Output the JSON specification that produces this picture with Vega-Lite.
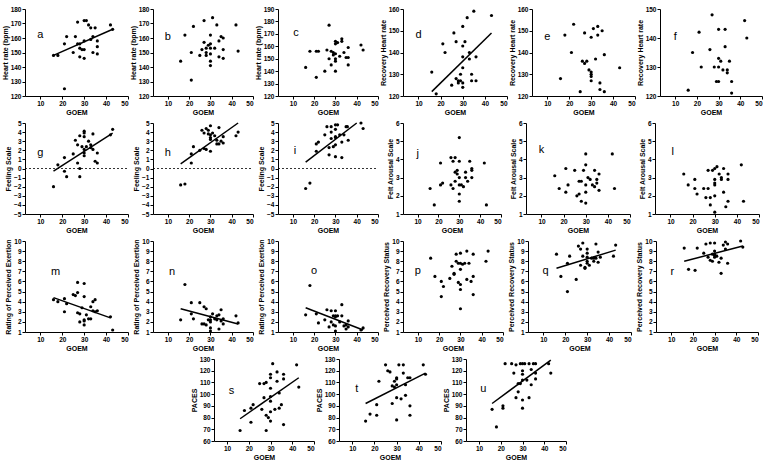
{
"$schema": "https://vega.github.io/schema/vega-lite/v6.json",
"padding": {"left": 1, "top": 6, "right": 1, "bottom": 0},
"spacing": 4,
"config": {
  "view": {"stroke": null},
  "axis": {"grid": false, "domainColor": "black", "tickColor": "black", "labelColor": "black", "titleColor": "black", "labelFont": "Liberation Sans", "titleFont": "Liberation Sans", "labelFontWeight": "bold", "titleFontWeight": "bold", "labelFontSize": 6.5, "titleFontSize": 7, "tickSize": 3, "labelPadding": 1, "titlePadding": 2, "domainWidth": 1, "labelOverlap": false},
  "text": {"font": "Liberation Sans"}
},
"datasets": {
"pts": [
{"panel":"a","goem":16,"value":148},{"panel":"a","goem":18,"value":148},{"panel":"a","goem":21,"value":125},{"panel":"a","goem":21,"value":156},{"panel":"a","goem":22,"value":161},{"panel":"a","goem":25,"value":150},{"panel":"a","goem":26,"value":161},{"panel":"a","goem":27,"value":171},{"panel":"a","goem":27,"value":156},{"panel":"a","goem":28,"value":153},{"panel":"a","goem":28,"value":147},{"panel":"a","goem":28,"value":156},{"panel":"a","goem":29,"value":152},{"panel":"a","goem":30,"value":146},{"panel":"a","goem":30,"value":152},{"panel":"a","goem":30,"value":158},{"panel":"a","goem":30,"value":172},{"panel":"a","goem":31,"value":172},{"panel":"a","goem":32,"value":169},{"panel":"a","goem":33,"value":167},{"panel":"a","goem":33,"value":159},{"panel":"a","goem":34,"value":161},{"panel":"a","goem":34,"value":150},{"panel":"a","goem":35,"value":167},{"panel":"a","goem":36,"value":158},{"panel":"a","goem":36,"value":154},{"panel":"a","goem":36,"value":149},{"panel":"a","goem":42,"value":169},{"panel":"a","goem":43,"value":166},
{"panel":"b","goem":16,"value":144},{"panel":"b","goem":18,"value":162},{"panel":"b","goem":21,"value":131},{"panel":"b","goem":21,"value":150},{"panel":"b","goem":22,"value":168},{"panel":"b","goem":25,"value":148},{"panel":"b","goem":26,"value":152},{"panel":"b","goem":27,"value":172},{"panel":"b","goem":27,"value":157},{"panel":"b","goem":28,"value":150},{"panel":"b","goem":28,"value":148},{"panel":"b","goem":28,"value":153},{"panel":"b","goem":29,"value":155},{"panel":"b","goem":30,"value":153},{"panel":"b","goem":30,"value":156},{"panel":"b","goem":30,"value":162},{"panel":"b","goem":30,"value":144},{"panel":"b","goem":30,"value":141},{"panel":"b","goem":30,"value":149},{"panel":"b","goem":31,"value":174},{"panel":"b","goem":32,"value":153},{"panel":"b","goem":33,"value":169},{"panel":"b","goem":34,"value":158},{"panel":"b","goem":34,"value":147},{"panel":"b","goem":35,"value":161},{"panel":"b","goem":36,"value":160},{"panel":"b","goem":36,"value":146},{"panel":"b","goem":36,"value":152},{"panel":"b","goem":42,"value":169},{"panel":"b","goem":43,"value":151},
{"panel":"c","goem":16,"value":143},{"panel":"c","goem":18,"value":156},{"panel":"c","goem":21,"value":135},{"panel":"c","goem":21,"value":156},{"panel":"c","goem":22,"value":156},{"panel":"c","goem":25,"value":140},{"panel":"c","goem":26,"value":157},{"panel":"c","goem":27,"value":177},{"panel":"c","goem":27,"value":150},{"panel":"c","goem":28,"value":145},{"panel":"c","goem":28,"value":156},{"panel":"c","goem":29,"value":155},{"panel":"c","goem":29,"value":153},{"panel":"c","goem":30,"value":164},{"panel":"c","goem":30,"value":162},{"panel":"c","goem":30,"value":150},{"panel":"c","goem":30,"value":148},{"panel":"c","goem":30,"value":140},{"panel":"c","goem":30,"value":154},{"panel":"c","goem":31,"value":163},{"panel":"c","goem":32,"value":152},{"panel":"c","goem":33,"value":166},{"panel":"c","goem":33,"value":164},{"panel":"c","goem":34,"value":155},{"panel":"c","goem":35,"value":151},{"panel":"c","goem":36,"value":151},{"panel":"c","goem":36,"value":159},{"panel":"c","goem":36,"value":145},{"panel":"c","goem":42,"value":161},{"panel":"c","goem":43,"value":157},
{"panel":"d","goem":16,"value":131},{"panel":"d","goem":18,"value":121},{"panel":"d","goem":21,"value":144},{"panel":"d","goem":22,"value":140},{"panel":"d","goem":25,"value":125},{"panel":"d","goem":26,"value":149},{"panel":"d","goem":27,"value":145},{"panel":"d","goem":27,"value":128},{"panel":"d","goem":28,"value":127},{"panel":"d","goem":28,"value":126},{"panel":"d","goem":29,"value":130},{"panel":"d","goem":29,"value":127},{"panel":"d","goem":30,"value":152},{"panel":"d","goem":30,"value":143},{"panel":"d","goem":30,"value":138},{"panel":"d","goem":30,"value":133},{"panel":"d","goem":30,"value":126},{"panel":"d","goem":30,"value":124},{"panel":"d","goem":31,"value":145},{"panel":"d","goem":32,"value":156},{"panel":"d","goem":33,"value":140},{"panel":"d","goem":33,"value":137},{"panel":"d","goem":34,"value":127},{"panel":"d","goem":34,"value":130},{"panel":"d","goem":35,"value":159},{"panel":"d","goem":36,"value":138},{"panel":"d","goem":36,"value":127},{"panel":"d","goem":43,"value":157},
{"panel":"e","goem":16,"value":128},{"panel":"e","goem":18,"value":148},{"panel":"e","goem":21,"value":140},{"panel":"e","goem":22,"value":153},{"panel":"e","goem":25,"value":122},{"panel":"e","goem":26,"value":136},{"panel":"e","goem":27,"value":135},{"panel":"e","goem":27,"value":149},{"panel":"e","goem":28,"value":136},{"panel":"e","goem":29,"value":132},{"panel":"e","goem":30,"value":147},{"panel":"e","goem":30,"value":131},{"panel":"e","goem":30,"value":130},{"panel":"e","goem":30,"value":129},{"panel":"e","goem":30,"value":127},{"panel":"e","goem":31,"value":151},{"panel":"e","goem":32,"value":137},{"panel":"e","goem":33,"value":152},{"panel":"e","goem":33,"value":148},{"panel":"e","goem":34,"value":126},{"panel":"e","goem":34,"value":123},{"panel":"e","goem":35,"value":150},{"panel":"e","goem":36,"value":139},{"panel":"e","goem":36,"value":122},{"panel":"e","goem":43,"value":133},
{"panel":"f","goem":16,"value":122},{"panel":"f","goem":18,"value":135},{"panel":"f","goem":21,"value":142},{"panel":"f","goem":22,"value":130},{"panel":"f","goem":26,"value":136},{"panel":"f","goem":27,"value":148},{"panel":"f","goem":28,"value":130},{"panel":"f","goem":29,"value":125},{"panel":"f","goem":30,"value":125},{"panel":"f","goem":30,"value":143},{"panel":"f","goem":30,"value":133},{"panel":"f","goem":30,"value":130},{"panel":"f","goem":31,"value":132},{"panel":"f","goem":32,"value":129},{"panel":"f","goem":33,"value":143},{"panel":"f","goem":33,"value":137},{"panel":"f","goem":34,"value":128},{"panel":"f","goem":34,"value":129},{"panel":"f","goem":35,"value":132},{"panel":"f","goem":36,"value":125},{"panel":"f","goem":36,"value":121},{"panel":"f","goem":42,"value":146},{"panel":"f","goem":43,"value":140},
{"panel":"g","goem":16,"value":-2},{"panel":"g","goem":18,"value":0.4},{"panel":"g","goem":21,"value":1.2},{"panel":"g","goem":21,"value":-0.3},{"panel":"g","goem":22,"value":-0.9},{"panel":"g","goem":25,"value":1.6},{"panel":"g","goem":26,"value":3.1},{"panel":"g","goem":27,"value":2.6},{"panel":"g","goem":27,"value":0.6},{"panel":"g","goem":28,"value":3.6},{"panel":"g","goem":28,"value":0},{"panel":"g","goem":28,"value":-0.9},{"panel":"g","goem":29,"value":2.4},{"panel":"g","goem":30,"value":4.1},{"panel":"g","goem":30,"value":3.9},{"panel":"g","goem":30,"value":3.5},{"panel":"g","goem":30,"value":2.1},{"panel":"g","goem":30,"value":1.4},{"panel":"g","goem":30,"value":1.7},{"panel":"g","goem":31,"value":2.4},{"panel":"g","goem":32,"value":3},{"panel":"g","goem":33,"value":2.6},{"panel":"g","goem":33,"value":2.3},{"panel":"g","goem":34,"value":3.8},{"panel":"g","goem":34,"value":2.1},{"panel":"g","goem":35,"value":0.8},{"panel":"g","goem":36,"value":1.7},{"panel":"g","goem":36,"value":0.6},{"panel":"g","goem":42,"value":3.7},{"panel":"g","goem":43,"value":4.3},
{"panel":"h","goem":16,"value":-1.8},{"panel":"h","goem":18,"value":-1.7},{"panel":"h","goem":21,"value":1.6},{"panel":"h","goem":21,"value":0.6},{"panel":"h","goem":22,"value":2.4},{"panel":"h","goem":25,"value":2},{"panel":"h","goem":26,"value":4.2},{"panel":"h","goem":27,"value":3.9},{"panel":"h","goem":27,"value":2.2},{"panel":"h","goem":28,"value":4.4},{"panel":"h","goem":28,"value":2.1},{"panel":"h","goem":29,"value":4.2},{"panel":"h","goem":29,"value":3.8},{"panel":"h","goem":30,"value":4.7},{"panel":"h","goem":30,"value":3.7},{"panel":"h","goem":30,"value":3.4},{"panel":"h","goem":30,"value":3.2},{"panel":"h","goem":30,"value":1.9},{"panel":"h","goem":31,"value":3.9},{"panel":"h","goem":32,"value":3.6},{"panel":"h","goem":33,"value":3.1},{"panel":"h","goem":33,"value":2.7},{"panel":"h","goem":34,"value":4.5},{"panel":"h","goem":34,"value":2.7},{"panel":"h","goem":35,"value":3},{"panel":"h","goem":36,"value":3.5},{"panel":"h","goem":36,"value":2.8},{"panel":"h","goem":42,"value":3.6},{"panel":"h","goem":43,"value":4},
{"panel":"i","goem":16,"value":-2.2},{"panel":"i","goem":18,"value":-1.6},{"panel":"i","goem":21,"value":2.7},{"panel":"i","goem":21,"value":1.9},{"panel":"i","goem":22,"value":2.9},{"panel":"i","goem":25,"value":3.7},{"panel":"i","goem":26,"value":4.6},{"panel":"i","goem":27,"value":1.5},{"panel":"i","goem":27,"value":2.3},{"panel":"i","goem":28,"value":4.6},{"panel":"i","goem":28,"value":4},{"panel":"i","goem":28,"value":3.3},{"panel":"i","goem":29,"value":2.4},{"panel":"i","goem":30,"value":4.8},{"panel":"i","goem":30,"value":4.3},{"panel":"i","goem":30,"value":3.5},{"panel":"i","goem":30,"value":3.4},{"panel":"i","goem":30,"value":2.6},{"panel":"i","goem":30,"value":1.3},{"panel":"i","goem":31,"value":4.8},{"panel":"i","goem":32,"value":3.7},{"panel":"i","goem":33,"value":2.9},{"panel":"i","goem":33,"value":1.2},{"panel":"i","goem":34,"value":3.7},{"panel":"i","goem":35,"value":4.6},{"panel":"i","goem":35.6,"value":4.6},{"panel":"i","goem":36,"value":3.1},{"panel":"i","goem":42,"value":5},{"panel":"i","goem":43,"value":4.4},
{"panel":"j","goem":16,"value":2.4},{"panel":"j","goem":18,"value":1.5},{"panel":"j","goem":21,"value":2.6},{"panel":"j","goem":21,"value":3.8},{"panel":"j","goem":22,"value":2.7},{"panel":"j","goem":26,"value":4.1},{"panel":"j","goem":26,"value":2.6},{"panel":"j","goem":27,"value":3.9},{"panel":"j","goem":27,"value":2.4},{"panel":"j","goem":28,"value":4.1},{"panel":"j","goem":28,"value":3.3},{"panel":"j","goem":28,"value":2.8},{"panel":"j","goem":29,"value":3.2},{"panel":"j","goem":29,"value":3.4},{"panel":"j","goem":30,"value":5.2},{"panel":"j","goem":30,"value":3.9},{"panel":"j","goem":30,"value":3},{"panel":"j","goem":30,"value":2.6},{"panel":"j","goem":30,"value":2.1},{"panel":"j","goem":30,"value":1.7},{"panel":"j","goem":31,"value":2.6},{"panel":"j","goem":32,"value":2.5},{"panel":"j","goem":33,"value":3.3},{"panel":"j","goem":33,"value":3},{"panel":"j","goem":34,"value":2.8},{"panel":"j","goem":35,"value":3.9},{"panel":"j","goem":36,"value":3.5},{"panel":"j","goem":36,"value":3.4},{"panel":"j","goem":36,"value":3},{"panel":"j","goem":42,"value":3.8},{"panel":"j","goem":43,"value":1.5},
{"panel":"k","goem":16,"value":3.1},{"panel":"k","goem":18,"value":2.4},{"panel":"k","goem":21,"value":3.5},{"panel":"k","goem":21,"value":2.2},{"panel":"k","goem":22,"value":2.6},{"panel":"k","goem":25,"value":3.4},{"panel":"k","goem":26,"value":2},{"panel":"k","goem":27,"value":2.1},{"panel":"k","goem":27,"value":2.8},{"panel":"k","goem":28,"value":2.8},{"panel":"k","goem":28,"value":1.7},{"panel":"k","goem":29,"value":3.4},{"panel":"k","goem":30,"value":4.3},{"panel":"k","goem":30,"value":3.7},{"panel":"k","goem":30,"value":2.6},{"panel":"k","goem":30,"value":2.2},{"panel":"k","goem":30,"value":1.6},{"panel":"k","goem":31,"value":3},{"panel":"k","goem":32,"value":2.9},{"panel":"k","goem":33,"value":2.6},{"panel":"k","goem":34,"value":3.4},{"panel":"k","goem":34,"value":2.5},{"panel":"k","goem":35,"value":2.9},{"panel":"k","goem":35,"value":2.7},{"panel":"k","goem":36,"value":3.2},{"panel":"k","goem":36,"value":2.3},{"panel":"k","goem":42,"value":4.3},{"panel":"k","goem":43,"value":2.4},
{"panel":"l","goem":16,"value":3.2},{"panel":"l","goem":18,"value":2.6},{"panel":"l","goem":21,"value":2.9},{"panel":"l","goem":21,"value":2.4},{"panel":"l","goem":22,"value":2.1},{"panel":"l","goem":25,"value":2.4},{"panel":"l","goem":26,"value":1.9},{"panel":"l","goem":27,"value":3.4},{"panel":"l","goem":27,"value":2.4},{"panel":"l","goem":28,"value":1.9},{"panel":"l","goem":28,"value":1.5},{"panel":"l","goem":29,"value":3.4},{"panel":"l","goem":30,"value":3.5},{"panel":"l","goem":30,"value":2.9},{"panel":"l","goem":30,"value":2.7},{"panel":"l","goem":30,"value":2.6},{"panel":"l","goem":30,"value":2},{"panel":"l","goem":30,"value":1.1},{"panel":"l","goem":31,"value":3.6},{"panel":"l","goem":32,"value":3.2},{"panel":"l","goem":33,"value":3},{"panel":"l","goem":33,"value":2.9},{"panel":"l","goem":34,"value":3.5},{"panel":"l","goem":34,"value":2.2},{"panel":"l","goem":35,"value":1.4},{"panel":"l","goem":36,"value":3.2},{"panel":"l","goem":36,"value":2.9},{"panel":"l","goem":36,"value":1.7},{"panel":"l","goem":42,"value":3.7},{"panel":"l","goem":43,"value":1.7},
{"panel":"m","goem":16,"value":4.2},{"panel":"m","goem":18,"value":4},{"panel":"m","goem":21,"value":4.3},{"panel":"m","goem":21,"value":3},{"panel":"m","goem":22,"value":3.8},{"panel":"m","goem":25,"value":4.7},{"panel":"m","goem":26,"value":4.6},{"panel":"m","goem":27,"value":2.9},{"panel":"m","goem":27,"value":5.9},{"panel":"m","goem":27,"value":4.9},{"panel":"m","goem":28,"value":2.8},{"panel":"m","goem":28,"value":2},{"panel":"m","goem":29,"value":3.4},{"panel":"m","goem":30,"value":5.8},{"panel":"m","goem":30,"value":4.5},{"panel":"m","goem":30,"value":2.2},{"panel":"m","goem":30,"value":2.1},{"panel":"m","goem":30,"value":1.7},{"panel":"m","goem":31,"value":2.7},{"panel":"m","goem":32,"value":2.3},{"panel":"m","goem":33,"value":2.3},{"panel":"m","goem":33,"value":3.5},{"panel":"m","goem":34,"value":3.1},{"panel":"m","goem":34,"value":4},{"panel":"m","goem":35,"value":4.2},{"panel":"m","goem":35,"value":3},{"panel":"m","goem":36,"value":3.1},{"panel":"m","goem":42,"value":2.5},{"panel":"m","goem":43,"value":1.2},
{"panel":"n","goem":16,"value":2.2},{"panel":"n","goem":18,"value":5.7},{"panel":"n","goem":21,"value":3.9},{"panel":"n","goem":21,"value":2.8},{"panel":"n","goem":22,"value":2.3},{"panel":"n","goem":25,"value":3.9},{"panel":"n","goem":26,"value":1.8},{"panel":"n","goem":27,"value":3.5},{"panel":"n","goem":27,"value":1.8},{"panel":"n","goem":28,"value":3.3},{"panel":"n","goem":28,"value":1.7},{"panel":"n","goem":29,"value":2.2},{"panel":"n","goem":30,"value":2.5},{"panel":"n","goem":30,"value":2.2},{"panel":"n","goem":30,"value":2},{"panel":"n","goem":30,"value":1.4},{"panel":"n","goem":30,"value":1.1},{"panel":"n","goem":31,"value":2.8},{"panel":"n","goem":32,"value":2.3},{"panel":"n","goem":33,"value":2.6},{"panel":"n","goem":33,"value":2.2},{"panel":"n","goem":34,"value":2.7},{"panel":"n","goem":34,"value":1.3},{"panel":"n","goem":35,"value":3.2},{"panel":"n","goem":35,"value":2.1},{"panel":"n","goem":36,"value":2.3},{"panel":"n","goem":36,"value":1.8},{"panel":"n","goem":42,"value":2.6},{"panel":"n","goem":43,"value":1.9},
{"panel":"o","goem":16,"value":2.7},{"panel":"o","goem":18,"value":5.6},{"panel":"o","goem":21,"value":2.8},{"panel":"o","goem":22,"value":1.9},{"panel":"o","goem":25,"value":2.2},{"panel":"o","goem":26,"value":3.2},{"panel":"o","goem":27,"value":1.5},{"panel":"o","goem":28,"value":3.1},{"panel":"o","goem":28,"value":2},{"panel":"o","goem":29,"value":2.6},{"panel":"o","goem":29,"value":1.7},{"panel":"o","goem":30,"value":3.1},{"panel":"o","goem":30,"value":2.6},{"panel":"o","goem":30,"value":2.5},{"panel":"o","goem":30,"value":1.6},{"panel":"o","goem":30,"value":1.1},{"panel":"o","goem":31,"value":2.6},{"panel":"o","goem":32,"value":2},{"panel":"o","goem":33,"value":3.7},{"panel":"o","goem":33,"value":2.6},{"panel":"o","goem":34,"value":1.6},{"panel":"o","goem":35,"value":1.7},{"panel":"o","goem":35,"value":1.3},{"panel":"o","goem":36,"value":2.1},{"panel":"o","goem":36,"value":1.5},{"panel":"o","goem":42,"value":1.2},{"panel":"o","goem":43,"value":1.4},
{"panel":"p","goem":16,"value":8.3},{"panel":"p","goem":18,"value":6.5},{"panel":"p","goem":21,"value":6},{"panel":"p","goem":21,"value":4.5},{"panel":"p","goem":22,"value":5.5},{"panel":"p","goem":25,"value":6.3},{"panel":"p","goem":26,"value":7.5},{"panel":"p","goem":27,"value":6.8},{"panel":"p","goem":27,"value":6.7},{"panel":"p","goem":28,"value":8.7},{"panel":"p","goem":28,"value":8},{"panel":"p","goem":29,"value":5.9},{"panel":"p","goem":29,"value":7.8},{"panel":"p","goem":30,"value":8.8},{"panel":"p","goem":30,"value":7.8},{"panel":"p","goem":30,"value":7.2},{"panel":"p","goem":30,"value":5.7},{"panel":"p","goem":30,"value":5.2},{"panel":"p","goem":30,"value":3.3},{"panel":"p","goem":31,"value":7.7},{"panel":"p","goem":32,"value":7.8},{"panel":"p","goem":33,"value":9},{"panel":"p","goem":33,"value":6.2},{"panel":"p","goem":34,"value":7.8},{"panel":"p","goem":35,"value":6},{"panel":"p","goem":36,"value":8.7},{"panel":"p","goem":36,"value":6.5},{"panel":"p","goem":36,"value":4.7},{"panel":"p","goem":42,"value":8},{"panel":"p","goem":43,"value":9},
{"panel":"q","goem":16,"value":8.7},{"panel":"q","goem":18,"value":6.5},{"panel":"q","goem":21,"value":7.8},{"panel":"q","goem":21,"value":5},{"panel":"q","goem":22,"value":8.5},{"panel":"q","goem":25,"value":6.2},{"panel":"q","goem":26,"value":9.5},{"panel":"q","goem":27,"value":9.2},{"panel":"q","goem":27,"value":7.6},{"panel":"q","goem":28,"value":9.8},{"panel":"q","goem":28,"value":8.5},{"panel":"q","goem":29,"value":7.3},{"panel":"q","goem":29,"value":7.4},{"panel":"q","goem":30,"value":9.2},{"panel":"q","goem":30,"value":8.8},{"panel":"q","goem":30,"value":8.4},{"panel":"q","goem":30,"value":8},{"panel":"q","goem":30,"value":7.8},{"panel":"q","goem":31,"value":7.6},{"panel":"q","goem":32,"value":8.3},{"panel":"q","goem":33,"value":8.3},{"panel":"q","goem":33,"value":8},{"panel":"q","goem":34,"value":9.7},{"panel":"q","goem":34,"value":8.3},{"panel":"q","goem":35,"value":8.9},{"panel":"q","goem":35,"value":7.9},{"panel":"q","goem":36,"value":8.4},{"panel":"q","goem":42,"value":8.5},{"panel":"q","goem":43,"value":9.6},
{"panel":"r","goem":16,"value":9.3},{"panel":"r","goem":18,"value":7.2},{"panel":"r","goem":21,"value":7.1},{"panel":"r","goem":22,"value":9.3},{"panel":"r","goem":25,"value":8.8},{"panel":"r","goem":26,"value":9.7},{"panel":"r","goem":27,"value":8.4},{"panel":"r","goem":28,"value":9.8},{"panel":"r","goem":28,"value":8.1},{"panel":"r","goem":29,"value":8.7},{"panel":"r","goem":29,"value":8},{"panel":"r","goem":30,"value":9.8},{"panel":"r","goem":30,"value":9},{"panel":"r","goem":30,"value":8.7},{"panel":"r","goem":30,"value":8.4},{"panel":"r","goem":30,"value":8.6},{"panel":"r","goem":31,"value":8.5},{"panel":"r","goem":32,"value":7.9},{"panel":"r","goem":33,"value":8.3},{"panel":"r","goem":33,"value":6.8},{"panel":"r","goem":34,"value":9.6},{"panel":"r","goem":35,"value":9.9},{"panel":"r","goem":35,"value":9.2},{"panel":"r","goem":36,"value":9.7},{"panel":"r","goem":36,"value":7.8},{"panel":"r","goem":42,"value":10},{"panel":"r","goem":43,"value":9.4},
{"panel":"s","goem":16,"value":69},{"panel":"s","goem":18,"value":86},{"panel":"s","goem":21,"value":76},{"panel":"s","goem":21,"value":88},{"panel":"s","goem":22,"value":91},{"panel":"s","goem":25,"value":109},{"panel":"s","goem":26,"value":87},{"panel":"s","goem":27,"value":97},{"panel":"s","goem":27,"value":109},{"panel":"s","goem":28,"value":110},{"panel":"s","goem":28,"value":69},{"panel":"s","goem":28,"value":82},{"panel":"s","goem":29,"value":80},{"panel":"s","goem":30,"value":77},{"panel":"s","goem":30,"value":85},{"panel":"s","goem":30,"value":94},{"panel":"s","goem":30,"value":98},{"panel":"s","goem":30,"value":105},{"panel":"s","goem":30,"value":114},{"panel":"s","goem":30,"value":117},{"panel":"s","goem":31,"value":126},{"panel":"s","goem":32,"value":87},{"panel":"s","goem":33,"value":111},{"panel":"s","goem":33,"value":119},{"panel":"s","goem":34,"value":101},{"panel":"s","goem":34,"value":88},{"panel":"s","goem":35,"value":91},{"panel":"s","goem":36,"value":117},{"panel":"s","goem":36,"value":113},{"panel":"s","goem":36,"value":74},{"panel":"s","goem":42,"value":125},{"panel":"s","goem":43,"value":106},
{"panel":"t","goem":16,"value":77},{"panel":"t","goem":18,"value":83},{"panel":"t","goem":21,"value":91},{"panel":"t","goem":21,"value":82},{"panel":"t","goem":22,"value":111},{"panel":"t","goem":25,"value":125},{"panel":"t","goem":26,"value":120},{"panel":"t","goem":27,"value":119},{"panel":"t","goem":28,"value":107},{"panel":"t","goem":28,"value":92},{"panel":"t","goem":29,"value":111},{"panel":"t","goem":29,"value":106},{"panel":"t","goem":30,"value":108},{"panel":"t","goem":30,"value":97},{"panel":"t","goem":30,"value":78},{"panel":"t","goem":30,"value":114},{"panel":"t","goem":30,"value":113},{"panel":"t","goem":31,"value":125},{"panel":"t","goem":32,"value":96},{"panel":"t","goem":33,"value":125},{"panel":"t","goem":33,"value":118},{"panel":"t","goem":34,"value":108},{"panel":"t","goem":34,"value":99},{"panel":"t","goem":35,"value":114},{"panel":"t","goem":36,"value":114},{"panel":"t","goem":36,"value":90},{"panel":"t","goem":36,"value":82},{"panel":"t","goem":42,"value":125},{"panel":"t","goem":43,"value":117},
{"panel":"u","goem":16,"value":87},{"panel":"u","goem":18,"value":72},{"panel":"u","goem":21,"value":90},{"panel":"u","goem":21,"value":88},{"panel":"u","goem":22,"value":126},{"panel":"u","goem":25,"value":126},{"panel":"u","goem":26,"value":118},{"panel":"u","goem":27,"value":125},{"panel":"u","goem":27,"value":97},{"panel":"u","goem":28,"value":102},{"panel":"u","goem":28,"value":109},{"panel":"u","goem":29,"value":109},{"panel":"u","goem":29,"value":126},{"panel":"u","goem":30,"value":120},{"panel":"u","goem":30,"value":117},{"panel":"u","goem":30,"value":112},{"panel":"u","goem":30,"value":95},{"panel":"u","goem":30,"value":88},{"panel":"u","goem":30,"value":126},{"panel":"u","goem":31,"value":126},{"panel":"u","goem":32,"value":112},{"panel":"u","goem":33,"value":126},{"panel":"u","goem":33,"value":97},{"panel":"u","goem":34,"value":121},{"panel":"u","goem":34,"value":108},{"panel":"u","goem":35,"value":126},{"panel":"u","goem":36,"value":126},{"panel":"u","goem":36,"value":118},{"panel":"u","goem":36,"value":113},{"panel":"u","goem":42,"value":126},{"panel":"u","goem":43,"value":118}
],
"fits": [
{"panel":"a","goem":16,"value":148},{"panel":"a","goem":43,"value":166},
{"panel":"d","goem":16,"value":122},{"panel":"d","goem":43,"value":149},
{"panel":"g","goem":16,"value":-0.3},{"panel":"g","goem":43,"value":3.9},
{"panel":"h","goem":16,"value":0.5},{"panel":"h","goem":43,"value":5},
{"panel":"i","goem":16,"value":0.7},{"panel":"i","goem":40,"value":5},
{"panel":"m","goem":16,"value":4.4},{"panel":"m","goem":42,"value":2.4},
{"panel":"n","goem":16,"value":3.3},{"panel":"n","goem":43,"value":1.8},
{"panel":"o","goem":16,"value":3.4},{"panel":"o","goem":43,"value":1.2},
{"panel":"q","goem":16,"value":7.3},{"panel":"q","goem":43,"value":9.1},
{"panel":"r","goem":16,"value":8},{"panel":"r","goem":43,"value":9.5},
{"panel":"s","goem":16,"value":79},{"panel":"s","goem":43,"value":114},
{"panel":"t","goem":16,"value":92},{"panel":"t","goem":43,"value":118},
{"panel":"u","goem":16,"value":92},{"panel":"u","goem":43,"value":129}
],
"letters": [
{"panel":"a","goem":10,"value":162},{"panel":"b","goem":10,"value":161},{"panel":"c","goem":11.5,"value":171},
{"panel":"d","goem":10,"value":148},{"panel":"e","goem":10,"value":147},{"panel":"f","goem":10,"value":140.4},
{"panel":"g","goem":10,"value":1.75},{"panel":"h","goem":10,"value":1.7},{"panel":"i","goem":11,"value":1.9},
{"panel":"j","goem":10,"value":4.3},{"panel":"k","goem":10,"value":4.5},{"panel":"l","goem":11,"value":4.4},
{"panel":"m","goem":17,"value":6.9},{"panel":"n","goem":12,"value":6.9},{"panel":"o","goem":20,"value":7},
{"panel":"p","goem":10,"value":7},{"panel":"q","goem":11,"value":7},{"panel":"r","goem":10.5,"value":6.9},
{"panel":"s","goem":12,"value":103},{"panel":"t","goem":12,"value":104},{"panel":"u","goem":12,"value":104}
]
},
"vconcat": [
{"hconcat": [
{"width":103,"height":87,"encoding":{"x":{"field":"goem","type":"quantitative","scale":{"domain":[3,50],"nice":false,"zero":false},"axis":{"values":[10,20,30,40,50],"title":"GOEM"}},"y":{"field":"value","type":"quantitative","scale":{"domain":[120,180],"nice":false,"zero":false},"axis":{"values":[120,130,140,150,160,170,180],"title":"Heart rate (bpm)"}}},"layer":[
 {"data":{"name":"pts"},"transform":[{"filter":"datum.panel == 'a'"}],"mark":{"type":"circle","size":10,"color":"black","opacity":1}},
 {"data":{"name":"fits"},"transform":[{"filter":"datum.panel == 'a'"}],"mark":{"type":"line","color":"black","strokeWidth":1.5},"encoding":{}},
 {"data":{"name":"letters"},"transform":[{"filter":"datum.panel == 'a'"}],"mark":{"type":"text","fontSize":11,"color":"black"},"encoding":{"text":{"field":"panel"}}}
]},
{"width":100,"height":87,"encoding":{"x":{"field":"goem","type":"quantitative","scale":{"domain":[3,50],"nice":false,"zero":false},"axis":{"values":[10,20,30,40,50],"title":"GOEM"}},"y":{"field":"value","type":"quantitative","scale":{"domain":[120,180],"nice":false,"zero":false},"axis":{"values":[120,130,140,150,160,170,180],"title":"Heart rate (bpm)"}}},"layer":[
 {"data":{"name":"pts"},"transform":[{"filter":"datum.panel == 'b'"}],"mark":{"type":"circle","size":10,"color":"black","opacity":1}},
 {"data":{"name":"letters"},"transform":[{"filter":"datum.panel == 'b'"}],"mark":{"type":"text","fontSize":11,"color":"black"},"encoding":{"text":{"field":"panel"}}}
]},
{"width":100,"height":87,"encoding":{"x":{"field":"goem","type":"quantitative","scale":{"domain":[3,50],"nice":false,"zero":false},"axis":{"values":[10,20,30,40,50],"title":"GOEM"}},"y":{"field":"value","type":"quantitative","scale":{"domain":[120,190],"nice":false,"zero":false},"axis":{"values":[120,130,140,150,160,170,180,190],"title":"Heart rate (bpm)"}}},"layer":[
 {"data":{"name":"pts"},"transform":[{"filter":"datum.panel == 'c'"}],"mark":{"type":"circle","size":10,"color":"black","opacity":1}},
 {"data":{"name":"letters"},"transform":[{"filter":"datum.panel == 'c'"}],"mark":{"type":"text","fontSize":11,"color":"black"},"encoding":{"text":{"field":"panel"}}}
]},
{"width":104,"height":87,"encoding":{"x":{"field":"goem","type":"quantitative","scale":{"domain":[3,50],"nice":false,"zero":false},"axis":{"values":[10,20,30,40,50],"title":"GOEM"}},"y":{"field":"value","type":"quantitative","scale":{"domain":[120,160],"nice":false,"zero":false},"axis":{"values":[120,130,140,150,160],"title":"Recovery Heart rate"}}},"layer":[
 {"data":{"name":"pts"},"transform":[{"filter":"datum.panel == 'd'"}],"mark":{"type":"circle","size":10,"color":"black","opacity":1}},
 {"data":{"name":"fits"},"transform":[{"filter":"datum.panel == 'd'"}],"mark":{"type":"line","color":"black","strokeWidth":1.5},"encoding":{}},
 {"data":{"name":"letters"},"transform":[{"filter":"datum.panel == 'd'"}],"mark":{"type":"text","fontSize":11,"color":"black"},"encoding":{"text":{"field":"panel"}}}
]},
{"width":103,"height":87,"encoding":{"x":{"field":"goem","type":"quantitative","scale":{"domain":[3,50],"nice":false,"zero":false},"axis":{"values":[10,20,30,40,50],"title":"GOEM"}},"y":{"field":"value","type":"quantitative","scale":{"domain":[120,160],"nice":false,"zero":false},"axis":{"values":[120,130,140,150,160],"title":"Recovery Heart rate"}}},"layer":[
 {"data":{"name":"pts"},"transform":[{"filter":"datum.panel == 'e'"}],"mark":{"type":"circle","size":10,"color":"black","opacity":1}},
 {"data":{"name":"letters"},"transform":[{"filter":"datum.panel == 'e'"}],"mark":{"type":"text","fontSize":11,"color":"black"},"encoding":{"text":{"field":"panel"}}}
]},
{"width":102,"height":87,"encoding":{"x":{"field":"goem","type":"quantitative","scale":{"domain":[3,50],"nice":false,"zero":false},"axis":{"values":[10,20,30,40,50],"title":"GOEM"}},"y":{"field":"value","type":"quantitative","scale":{"domain":[120,150],"nice":false,"zero":false},"axis":{"values":[120,130,140,150],"title":"Recovery Heart rate"}}},"layer":[
 {"data":{"name":"pts"},"transform":[{"filter":"datum.panel == 'f'"}],"mark":{"type":"circle","size":10,"color":"black","opacity":1}},
 {"data":{"name":"letters"},"transform":[{"filter":"datum.panel == 'f'"}],"mark":{"type":"text","fontSize":11,"color":"black"},"encoding":{"text":{"field":"panel"}}}
]}
], "spacing": 25, "bounds": "flush"},
{"hconcat": [
{"width":103,"height":91,"encoding":{"x":{"field":"goem","type":"quantitative","scale":{"domain":[3,50],"nice":false,"zero":false},"axis":{"values":[10,20,30,40,50],"title":"GOEM"}},"y":{"field":"value","type":"quantitative","scale":{"domain":[-5,5],"nice":false,"zero":false},"axis":{"values":[-5,-4,-3,-2,-1,0,1,2,3,4,5],"title":"Feeling Scale"}}},"layer":[
 {"data":{"name":"pts"},"transform":[{"filter":"datum.panel == 'g'"}],"mark":{"type":"circle","size":10,"color":"black","opacity":1}},
 {"data":{"name":"letters"},"transform":[{"filter":"datum.panel == 'g'"}],"mark":{"type":"rule","color":"black","strokeWidth":0.8,"strokeDash":[2,2]},"encoding":{"x":{"datum":3},"x2":{"datum":50},"y":{"datum":0}}},
 {"data":{"name":"fits"},"transform":[{"filter":"datum.panel == 'g'"}],"mark":{"type":"line","color":"black","strokeWidth":1.5},"encoding":{}},
 {"data":{"name":"letters"},"transform":[{"filter":"datum.panel == 'g'"}],"mark":{"type":"text","fontSize":11,"color":"black"},"encoding":{"text":{"field":"panel"}}}
]},
{"width":100,"height":91,"encoding":{"x":{"field":"goem","type":"quantitative","scale":{"domain":[3,50],"nice":false,"zero":false},"axis":{"values":[10,20,30,40,50],"title":"GOEM"}},"y":{"field":"value","type":"quantitative","scale":{"domain":[-5,5],"nice":false,"zero":false},"axis":{"values":[-5,-4,-3,-2,-1,0,1,2,3,4,5],"title":"Feeling Scale"}}},"layer":[
 {"data":{"name":"pts"},"transform":[{"filter":"datum.panel == 'h'"}],"mark":{"type":"circle","size":10,"color":"black","opacity":1}},
 {"data":{"name":"letters"},"transform":[{"filter":"datum.panel == 'h'"}],"mark":{"type":"rule","color":"black","strokeWidth":0.8,"strokeDash":[2,2]},"encoding":{"x":{"datum":3},"x2":{"datum":50},"y":{"datum":0}}},
 {"data":{"name":"fits"},"transform":[{"filter":"datum.panel == 'h'"}],"mark":{"type":"line","color":"black","strokeWidth":1.5},"encoding":{}},
 {"data":{"name":"letters"},"transform":[{"filter":"datum.panel == 'h'"}],"mark":{"type":"text","fontSize":11,"color":"black"},"encoding":{"text":{"field":"panel"}}}
]},
{"width":100,"height":91,"encoding":{"x":{"field":"goem","type":"quantitative","scale":{"domain":[3,50],"nice":false,"zero":false},"axis":{"values":[10,20,30,40,50],"title":"GOEM"}},"y":{"field":"value","type":"quantitative","scale":{"domain":[-5,5],"nice":false,"zero":false},"axis":{"values":[-5,-4,-3,-2,-1,0,1,2,3,4,5],"title":"Feeling Scale"}}},"layer":[
 {"data":{"name":"pts"},"transform":[{"filter":"datum.panel == 'i'"}],"mark":{"type":"circle","size":10,"color":"black","opacity":1}},
 {"data":{"name":"letters"},"transform":[{"filter":"datum.panel == 'i'"}],"mark":{"type":"rule","color":"black","strokeWidth":0.8,"strokeDash":[2,2]},"encoding":{"x":{"datum":3},"x2":{"datum":50},"y":{"datum":0}}},
 {"data":{"name":"fits"},"transform":[{"filter":"datum.panel == 'i'"}],"mark":{"type":"line","color":"black","strokeWidth":1.5},"encoding":{}},
 {"data":{"name":"letters"},"transform":[{"filter":"datum.panel == 'i'"}],"mark":{"type":"text","fontSize":11,"color":"black"},"encoding":{"text":{"field":"panel"}}}
]},
{"width":98,"height":91,"encoding":{"x":{"field":"goem","type":"quantitative","scale":{"domain":[3,50],"nice":false,"zero":false},"axis":{"values":[10,20,30,40,50],"title":"GOEM"}},"y":{"field":"value","type":"quantitative","scale":{"domain":[1,6],"nice":false,"zero":false},"axis":{"values":[1,2,3,4,5,6],"title":"Felt Arousal Scale"}}},"layer":[
 {"data":{"name":"pts"},"transform":[{"filter":"datum.panel == 'j'"}],"mark":{"type":"circle","size":10,"color":"black","opacity":1}},
 {"data":{"name":"letters"},"transform":[{"filter":"datum.panel == 'j'"}],"mark":{"type":"text","fontSize":11,"color":"black"},"encoding":{"text":{"field":"panel"}}}
]},
{"width":104,"height":91,"encoding":{"x":{"field":"goem","type":"quantitative","scale":{"domain":[3,50],"nice":false,"zero":false},"axis":{"values":[10,20,30,40,50],"title":"GOEM"}},"y":{"field":"value","type":"quantitative","scale":{"domain":[1,6],"nice":false,"zero":false},"axis":{"values":[1,2,3,4,5,6],"title":"Felt Arousal Scale"}}},"layer":[
 {"data":{"name":"pts"},"transform":[{"filter":"datum.panel == 'k'"}],"mark":{"type":"circle","size":10,"color":"black","opacity":1}},
 {"data":{"name":"letters"},"transform":[{"filter":"datum.panel == 'k'"}],"mark":{"type":"text","fontSize":11,"color":"black"},"encoding":{"text":{"field":"panel"}}}
]},
{"width":104,"height":91,"encoding":{"x":{"field":"goem","type":"quantitative","scale":{"domain":[3,50],"nice":false,"zero":false},"axis":{"values":[10,20,30,40,50],"title":"GOEM"}},"y":{"field":"value","type":"quantitative","scale":{"domain":[1,6],"nice":false,"zero":false},"axis":{"values":[1,2,3,4,5,6],"title":"Felt Arousal Scale"}}},"layer":[
 {"data":{"name":"pts"},"transform":[{"filter":"datum.panel == 'l'"}],"mark":{"type":"circle","size":10,"color":"black","opacity":1}},
 {"data":{"name":"letters"},"transform":[{"filter":"datum.panel == 'l'"}],"mark":{"type":"text","fontSize":11,"color":"black"},"encoding":{"text":{"field":"panel"}}}
]}
], "spacing": 25, "bounds": "flush"},
{"hconcat": [
{"width":103,"height":91,"encoding":{"x":{"field":"goem","type":"quantitative","scale":{"domain":[3,50],"nice":false,"zero":false},"axis":{"values":[10,20,30,40,50],"title":"GOEM"}},"y":{"field":"value","type":"quantitative","scale":{"domain":[1,10],"nice":false,"zero":false},"axis":{"values":[1,2,3,4,5,6,7,8,9,10],"title":"Rating of Perceived Exertion"}}},"layer":[
 {"data":{"name":"pts"},"transform":[{"filter":"datum.panel == 'm'"}],"mark":{"type":"circle","size":10,"color":"black","opacity":1}},
 {"data":{"name":"fits"},"transform":[{"filter":"datum.panel == 'm'"}],"mark":{"type":"line","color":"black","strokeWidth":1.5},"encoding":{}},
 {"data":{"name":"letters"},"transform":[{"filter":"datum.panel == 'm'"}],"mark":{"type":"text","fontSize":11,"color":"black"},"encoding":{"text":{"field":"panel"}}}
]},
{"width":100,"height":91,"encoding":{"x":{"field":"goem","type":"quantitative","scale":{"domain":[3,50],"nice":false,"zero":false},"axis":{"values":[10,20,30,40,50],"title":"GOEM"}},"y":{"field":"value","type":"quantitative","scale":{"domain":[1,10],"nice":false,"zero":false},"axis":{"values":[1,2,3,4,5,6,7,8,9,10],"title":"Rating of Perceived Exertion"}}},"layer":[
 {"data":{"name":"pts"},"transform":[{"filter":"datum.panel == 'n'"}],"mark":{"type":"circle","size":10,"color":"black","opacity":1}},
 {"data":{"name":"fits"},"transform":[{"filter":"datum.panel == 'n'"}],"mark":{"type":"line","color":"black","strokeWidth":1.5},"encoding":{}},
 {"data":{"name":"letters"},"transform":[{"filter":"datum.panel == 'n'"}],"mark":{"type":"text","fontSize":11,"color":"black"},"encoding":{"text":{"field":"panel"}}}
]},
{"width":100,"height":91,"encoding":{"x":{"field":"goem","type":"quantitative","scale":{"domain":[3,50],"nice":false,"zero":false},"axis":{"values":[10,20,30,40,50],"title":"GOEM"}},"y":{"field":"value","type":"quantitative","scale":{"domain":[1,10],"nice":false,"zero":false},"axis":{"values":[1,2,3,4,5,6,7,8,9,10],"title":"Rating of Perceived Exertion"}}},"layer":[
 {"data":{"name":"pts"},"transform":[{"filter":"datum.panel == 'o'"}],"mark":{"type":"circle","size":10,"color":"black","opacity":1}},
 {"data":{"name":"fits"},"transform":[{"filter":"datum.panel == 'o'"}],"mark":{"type":"line","color":"black","strokeWidth":1.5},"encoding":{}},
 {"data":{"name":"letters"},"transform":[{"filter":"datum.panel == 'o'"}],"mark":{"type":"text","fontSize":11,"color":"black"},"encoding":{"text":{"field":"panel"}}}
]},
{"width":100,"height":91,"encoding":{"x":{"field":"goem","type":"quantitative","scale":{"domain":[3,50],"nice":false,"zero":false},"axis":{"values":[10,20,30,40,50],"title":"GOEM"}},"y":{"field":"value","type":"quantitative","scale":{"domain":[1,10],"nice":false,"zero":false},"axis":{"values":[1,2,3,4,5,6,7,8,9,10],"title":"Perceived Recovery Status"}}},"layer":[
 {"data":{"name":"pts"},"transform":[{"filter":"datum.panel == 'p'"}],"mark":{"type":"circle","size":10,"color":"black","opacity":1}},
 {"data":{"name":"letters"},"transform":[{"filter":"datum.panel == 'p'"}],"mark":{"type":"text","fontSize":11,"color":"black"},"encoding":{"text":{"field":"panel"}}}
]},
{"width":103,"height":91,"encoding":{"x":{"field":"goem","type":"quantitative","scale":{"domain":[3,50],"nice":false,"zero":false},"axis":{"values":[10,20,30,40,50],"title":"GOEM"}},"y":{"field":"value","type":"quantitative","scale":{"domain":[1,10],"nice":false,"zero":false},"axis":{"values":[1,2,3,4,5,6,7,8,9,10],"title":"Perceived Recovery Status"}}},"layer":[
 {"data":{"name":"pts"},"transform":[{"filter":"datum.panel == 'q'"}],"mark":{"type":"circle","size":10,"color":"black","opacity":1}},
 {"data":{"name":"fits"},"transform":[{"filter":"datum.panel == 'q'"}],"mark":{"type":"line","color":"black","strokeWidth":1.5},"encoding":{}},
 {"data":{"name":"letters"},"transform":[{"filter":"datum.panel == 'q'"}],"mark":{"type":"text","fontSize":11,"color":"black"},"encoding":{"text":{"field":"panel"}}}
]},
{"width":102,"height":91,"encoding":{"x":{"field":"goem","type":"quantitative","scale":{"domain":[3,50],"nice":false,"zero":false},"axis":{"values":[10,20,30,40,50],"title":"GOEM"}},"y":{"field":"value","type":"quantitative","scale":{"domain":[1,10],"nice":false,"zero":false},"axis":{"values":[1,2,3,4,5,6,7,8,9,10],"title":"Perceived Recovery Status"}}},"layer":[
 {"data":{"name":"pts"},"transform":[{"filter":"datum.panel == 'r'"}],"mark":{"type":"circle","size":10,"color":"black","opacity":1}},
 {"data":{"name":"fits"},"transform":[{"filter":"datum.panel == 'r'"}],"mark":{"type":"line","color":"black","strokeWidth":1.5},"encoding":{}},
 {"data":{"name":"letters"},"transform":[{"filter":"datum.panel == 'r'"}],"mark":{"type":"text","fontSize":11,"color":"black"},"encoding":{"text":{"field":"panel"}}}
]}
], "spacing": 25, "bounds": "flush"},
{"hconcat": [
{"width":164,"height":10,"data":{"values":[]},"mark":"point"},
{"width":100,"height":82,"encoding":{"x":{"field":"goem","type":"quantitative","scale":{"domain":[4,50],"nice":false,"zero":false},"axis":{"values":[10,20,30,40,50],"title":"GOEM"}},"y":{"field":"value","type":"quantitative","scale":{"domain":[60,130],"nice":false,"zero":false},"axis":{"values":[60,70,80,90,100,110,120,130],"title":"PACES"}}},"layer":[
 {"data":{"name":"pts"},"transform":[{"filter":"datum.panel == 's'"}],"mark":{"type":"circle","size":10,"color":"black","opacity":1}},
 {"data":{"name":"fits"},"transform":[{"filter":"datum.panel == 's'"}],"mark":{"type":"line","color":"black","strokeWidth":1.5},"encoding":{}},
 {"data":{"name":"letters"},"transform":[{"filter":"datum.panel == 's'"}],"mark":{"type":"text","fontSize":11,"color":"black"},"encoding":{"text":{"field":"panel"}}}
]},
{"width":102,"height":82,"encoding":{"x":{"field":"goem","type":"quantitative","scale":{"domain":[4,50],"nice":false,"zero":false},"axis":{"values":[10,20,30,40,50],"title":"GOEM"}},"y":{"field":"value","type":"quantitative","scale":{"domain":[60,130],"nice":false,"zero":false},"axis":{"values":[60,70,80,90,100,110,120,130],"title":"PACES"}}},"layer":[
 {"data":{"name":"pts"},"transform":[{"filter":"datum.panel == 't'"}],"mark":{"type":"circle","size":10,"color":"black","opacity":1}},
 {"data":{"name":"fits"},"transform":[{"filter":"datum.panel == 't'"}],"mark":{"type":"line","color":"black","strokeWidth":1.5},"encoding":{}},
 {"data":{"name":"letters"},"transform":[{"filter":"datum.panel == 't'"}],"mark":{"type":"text","fontSize":11,"color":"black"},"encoding":{"text":{"field":"panel"}}}
]},
{"width":100,"height":82,"encoding":{"x":{"field":"goem","type":"quantitative","scale":{"domain":[4,50],"nice":false,"zero":false},"axis":{"values":[10,20,30,40,50],"title":"GOEM"}},"y":{"field":"value","type":"quantitative","scale":{"domain":[60,130],"nice":false,"zero":false},"axis":{"values":[60,70,80,90,100,110,120,130],"title":"PACES"}}},"layer":[
 {"data":{"name":"pts"},"transform":[{"filter":"datum.panel == 'u'"}],"mark":{"type":"circle","size":10,"color":"black","opacity":1}},
 {"data":{"name":"fits"},"transform":[{"filter":"datum.panel == 'u'"}],"mark":{"type":"line","color":"black","strokeWidth":1.5},"encoding":{}},
 {"data":{"name":"letters"},"transform":[{"filter":"datum.panel == 'u'"}],"mark":{"type":"text","fontSize":11,"color":"black"},"encoding":{"text":{"field":"panel"}}}
]}
], "spacing": 25, "bounds": "flush"}
]
}
